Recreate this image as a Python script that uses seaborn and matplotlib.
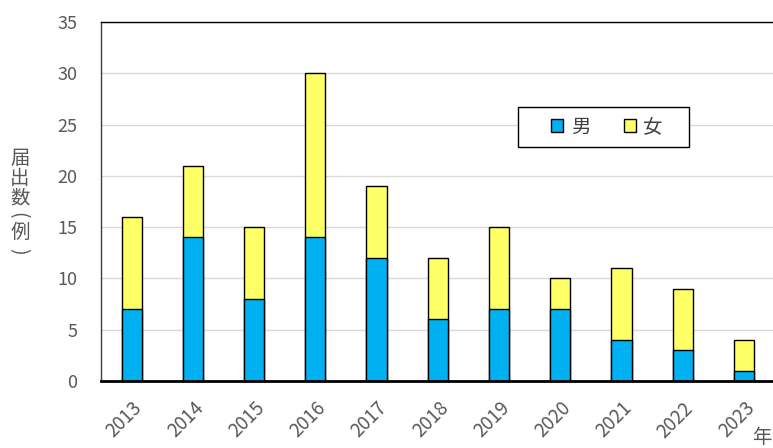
import matplotlib
matplotlib.use("Agg")
import matplotlib.pyplot as plt
import seaborn as sns
import pandas as pd
from matplotlib.patches import Patch, Rectangle

years = ["2013", "2014", "2015", "2016", "2017", "2018", "2019", "2020", "2021", "2022", "2023"]
male = [7, 14, 8, 14, 12, 6, 7, 7, 4, 3, 1]
female = [9, 7, 7, 16, 7, 6, 8, 3, 7, 6, 3]
yticks = [0, 5, 10, 15, 20, 25, 30, 35]

sns.set_theme(style="white")
plt.rcParams['font.family'] = ['Noto Sans CJK JP', 'DejaVu Sans']

df = pd.DataFrame({"year": years, "male": male, "female": female})
df["total"] = df["male"] + df["female"]

W, H = 773, 448
fig = plt.figure(figsize=(7.73, 4.48), dpi=100)
ax = fig.add_axes([101/W, 1-381/H, 1-101/W+0.002, (381-22)/H])

blue = "#00B0F0"
yellow = "#FFFF66"
sns.barplot(data=df, x="year", y="total", color=yellow, edgecolor="black",
            linewidth=1, width=0.33, saturation=1, ax=ax, zorder=3)
sns.barplot(data=df, x="year", y="male", color=blue, edgecolor="black",
            linewidth=1, width=0.33, saturation=1, ax=ax, zorder=4)

ax.set_xlim(-0.5, len(years) - 0.5)
ax.set_ylim(0, 35)
ax.set_yticks(yticks)
ax.yaxis.grid(True, color="#D9D9D9", linewidth=1, zorder=0)
ax.set_axisbelow(True)
ax.set_xlabel("")
ax.set_ylabel("")

ax.spines["right"].set_visible(False)
ax.spines["top"].set_color("black")
ax.spines["top"].set_linewidth(1)
ax.spines["left"].set_color("#404040")
ax.spines["left"].set_linewidth(1)
ax.spines["bottom"].set_color("black")
ax.spines["bottom"].set_linewidth(2)
ax.spines["bottom"].set_zorder(5)

ax.tick_params(axis="y", labelsize=13, labelcolor="#595959", length=0, pad=17)
ax.tick_params(axis="x", labelsize=13.5, labelcolor="#595959", length=0, pad=12)
for lab in ax.get_xticklabels():
    lab.set_rotation(45)
    lab.set_ha("right")
    lab.set_rotation_mode("anchor")

# legend frame
fig.add_artist(Rectangle((518/W, 1-147/H), 171/W, 40/H, transform=fig.transFigure,
                         facecolor="white", edgecolor="black", linewidth=1, zorder=9))
handles = [Patch(facecolor=blue, edgecolor="black", label="男"),
           Patch(facecolor=yellow, edgecolor="black", label="女")]
leg = fig.legend(handles=handles, ncol=2, loc="center",
                 bbox_to_anchor=(607/W, 1-127/H), bbox_transform=fig.transFigure,
                 frameon=False, fontsize=14, handlelength=0.62, handleheight=0.62,
                 handletextpad=0.4, columnspacing=1.7, borderpad=0,
                 labelcolor="#404040", borderaxespad=0)
leg.set_zorder(10)

# vertical y label (parentheses drawn as rotated glyphs, like vertical writing)
ylab_color = "#595959"
for ch, xc, yc, rot in [("届", 20, 159, 0), ("出", 20, 179, 0), ("数", 20, 198, 0),
                        ("(", 18, 215, -90), ("例", 20, 232, 0), (")", 18, 251, -90)]:
    fig.text(xc/W, 1-yc/H, ch, ha="center", va="center", fontsize=14,
             color=ylab_color, rotation=rot)

fig.text(752/W, 1-437/H, "年", ha="left", va="center", fontsize=14, color=ylab_color)

fig.savefig("out.png", dpi=100)
